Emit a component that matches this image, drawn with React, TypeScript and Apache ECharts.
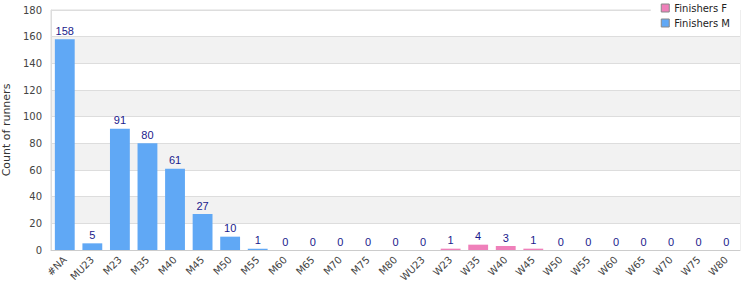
import React, { useEffect, useRef } from "react";
import * as echarts from "echarts";

const categories = ["#NA","MU23","M23","M35","M40","M45","M50","M55","M60","M65","M70","M75","M80","WU23","W23","W35","W40","W45","W50","W55","W60","W65","W70","W75","W80"];
const finishersM = [158,5,91,80,61,27,10,1,0,0,0,0,0,null,null,null,null,null,null,null,null,null,null,null,null];
const finishersF = [null,null,null,null,null,null,null,null,null,null,null,null,null,0,1,4,3,1,0,0,0,0,0,0,0];
const yTicks = { min: 0, max: 180, interval: 20 };

export default function App() {
  const ref = useRef<HTMLDivElement>(null);
  useEffect(() => {
    const chart = echarts.init(ref.current!, null, { renderer: "svg" });
    const label = { show: true, position: "top", color: "#1a1a8c", fontSize: 11, fontFamily: "Liberation Sans", distance: 3 };
    chart.setOption({
      animation: false,
      textStyle: { fontFamily: "DejaVu Sans" },
      legend: {
        orient: "vertical",
        right: 10,
        top: 0,
        data: ["Finishers F", "Finishers M"],
        backgroundColor: "#fff",
        itemWidth: 8,
        itemHeight: 8,
        itemGap: 5,
        padding: [3, 10, 5, 10],
        icon: "rect",
        itemStyle: { borderColor: "#888", borderWidth: 1 },
        textStyle: { color: "#222", fontSize: 10, fontFamily: "DejaVu Sans" },
        z: 10,
      },
      grid: { left: 51, right: 10, top: 10, bottom: 50, show: true, borderColor: "#ddd", backgroundColor: "transparent", outerBoundsMode: "none", containLabel: false },
      xAxis: {
        type: "category",
        data: categories,
        axisLine: { lineStyle: { color: "#ccc" } },
        axisTick: { show: false },
        axisLabel: { rotate: 45, color: "#444", fontSize: 10, interval: 0, margin: 8 },
      },
      yAxis: {
        type: "value",
        min: yTicks.min,
        max: yTicks.max,
        interval: yTicks.interval,
        name: "Count of runners",
        nameLocation: "middle",
        nameGap: 38,
        nameTextStyle: { color: "#333", fontSize: 11 },
        axisLabel: { color: "#444", fontSize: 10, margin: 9 },
        axisLine: { show: true, lineStyle: { color: "#ddd" } },
        splitLine: { lineStyle: { color: "#ddd" } },
        splitArea: { show: true, areaStyle: { color: ["#ffffff", "#f2f2f2"] } },
      },
      series: [
        {
          name: "Finishers F",
          type: "bar",
          stack: "total",
          data: finishersF,
          barCategoryGap: "28%",
          itemStyle: { color: "#ef80ba" },
          label,
        },
        {
          name: "Finishers M",
          type: "bar",
          stack: "total",
          data: finishersM,
          barCategoryGap: "28%",
          itemStyle: { color: "#60a8f5" },
          label,
        },
      ],
    });
    return () => chart.dispose();
  }, []);
  return <div ref={ref} style={{ width: 750, height: 300, position: "absolute", left: 0, top: 0 }} />;
}
